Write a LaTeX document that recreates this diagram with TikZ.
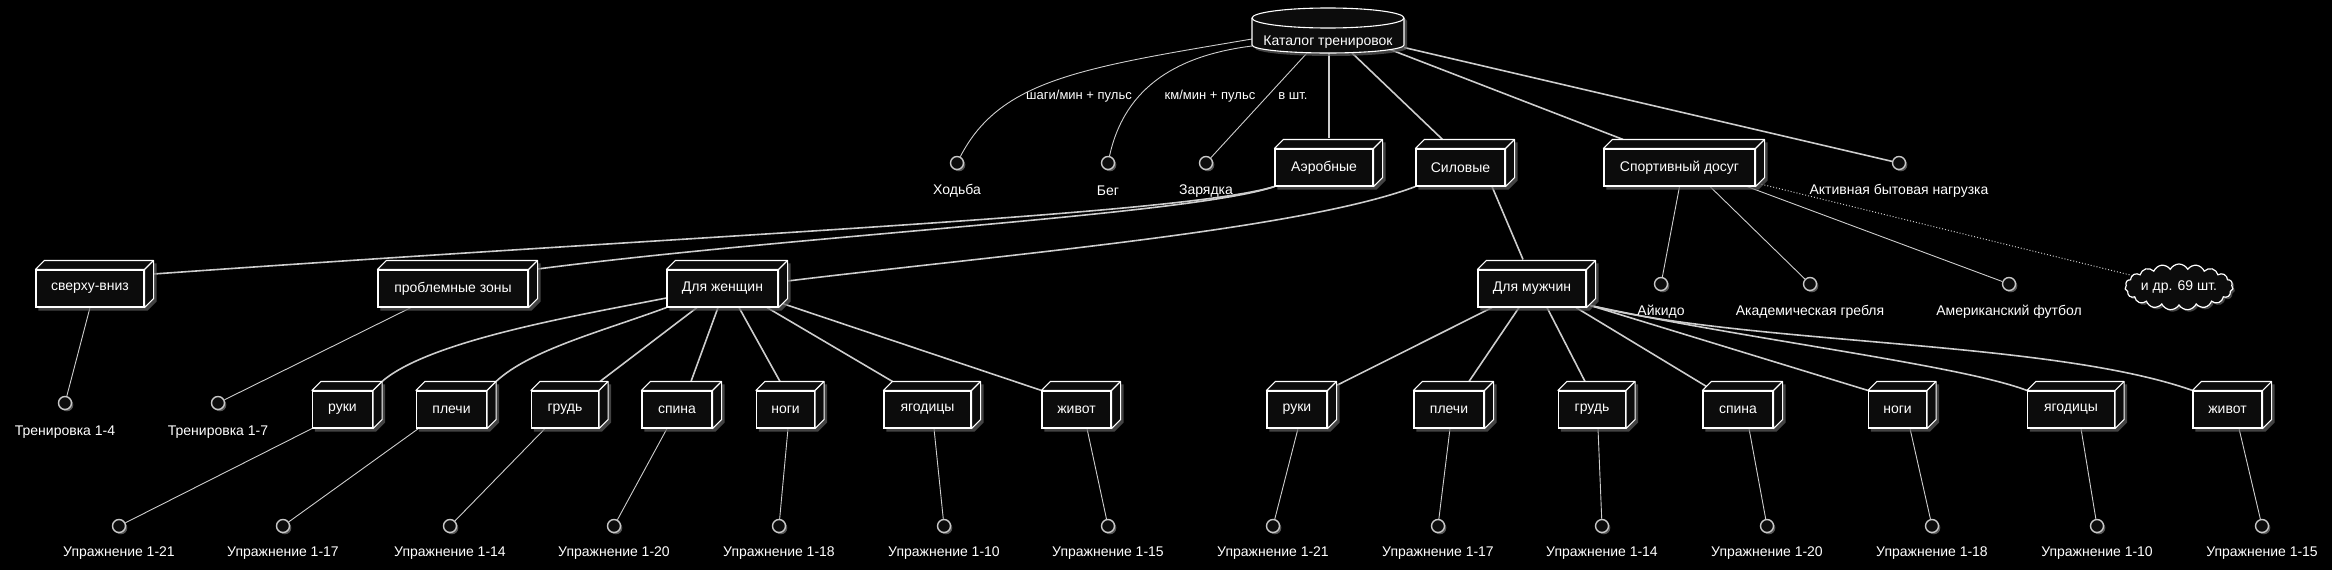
\documentclass[tikz,border=0pt]{standalone}
\usepackage{fontspec}
\setmainfont{Liberation Sans}
\usetikzlibrary{shapes.symbols,shadows}
\pgfdeclarelayer{bg}
\pgfdeclarelayer{shd}
\pgfsetlayers{bg,shd,main}
\definecolor{boxfill}{RGB}{12,12,12}
\definecolor{linec}{RGB}{205,205,205}
\definecolor{circc}{RGB}{200,200,200}
\definecolor{shadc}{RGB}{95,95,95}
\tikzset{
  base/.style={font=\fontsize{14pt}{16pt}\selectfont, text=white},
  boxnode/.style={base, draw=white, fill=boxfill, line width=1.1pt, minimum height=37pt, inner sep=0pt},
  boxedge/.style={draw=white, fill=boxfill, line width=1.1pt, line join=round},
  wline/.style={draw=white, line width=1.1pt},
  iface/.style={circle, draw=circc, fill=boxfill, line width=1.4pt, minimum size=13pt, inner sep=0pt,
    drop shadow={shadow xshift=1.8pt, shadow yshift=-1.8pt, fill=shadc, opacity=0.9}},
  lbl/.style={base, inner sep=0pt},
  elbl/.style={font=\fontsize{13pt}{15pt}\selectfont, text=white, inner sep=0pt},
  thk/.style={draw=linec, line width=1.6pt},
  thn/.style={draw=linec, line width=0.9pt},
  dots/.style={draw=linec, line width=1pt, dotted},
  cloudst/.style={base, cloud, cloud puffs=19, cloud puff arc=125, cloud ignores aspect,
    minimum width=108pt, minimum height=46pt, draw=white, fill=boxfill, line width=1.2pt, inner sep=0pt,
    drop shadow={shadow xshift=2pt, shadow yshift=-2pt, fill=shadc, opacity=0.7}},
}
\newcommand{\deepbox}[1]{%
  \begin{pgfonlayer}{shd}
  \fill[shadc, opacity=.7] ([shift={(3pt,-3pt)}]#1.south west) -- ([shift={(3pt,-3pt)}]#1.north west)
    -- ([shift={(12pt,6pt)}]#1.north west) -- ([shift={(12pt,6pt)}]#1.north east)
    -- ([shift={(12pt,6pt)}]#1.south east) -- ([shift={(3pt,-3pt)}]#1.south east) -- cycle;
  \end{pgfonlayer}
  \draw[boxedge] (#1.north west) -- ([shift={(9pt,9pt)}]#1.north west) -- ([shift={(9pt,9pt)}]#1.north east)
    -- ([shift={(9pt,9pt)}]#1.south east) -- (#1.south east) -- (#1.north east) -- cycle;
  \draw[wline] (#1.north east) -- ([shift={(9pt,9pt)}]#1.north east);
}
\begin{document}
\begin{tikzpicture}[x=1pt,y=-1pt]
\useasboundingbox (0,0) rectangle (2332,570);

% ---------- catalog (database) ----------
\node[minimum width=152pt, minimum height=45pt, inner sep=0pt] (cat) at (1328,30.5) {};
\begin{pgfonlayer}{shd}
\fill[shadc, opacity=.7] (1255,21) -- (1255,48) arc[start angle=180,end angle=360,x radius=76pt,y radius=8pt]
  -- (1407,21) arc[start angle=0,end angle=180,x radius=76pt,y radius=10pt] -- cycle;
\end{pgfonlayer}
\draw[boxedge] (1252,18) -- (1252,45) arc[start angle=180,end angle=360,x radius=76pt,y radius=8pt]
  -- (1404,18) arc[start angle=0,end angle=180,x radius=76pt,y radius=10pt] -- cycle;
\draw[wline] (1252,18) arc[start angle=180,end angle=360,x radius=76pt,y radius=10pt];
\node[lbl] (catl) at (1328,42) {Каталог тренировок};

% ---------- top row ----------
\node[iface] (hod) at (957,163) {};
\node[lbl] (hodl) at (957,191) {Ходьба};
\node[iface] (beg) at (1108,163) {};
\node[lbl] (begl) at (1108,191) {Бег};
\node[iface] (zar) at (1206,163) {};
\node[lbl] (zarl) at (1206,191) {Зарядка};
\node[iface] (akt) at (1899,163) {};
\node[lbl] (aktl) at (1899,191) {Активная бытовая нагрузка};

\node[boxnode, minimum width=98pt] (aer) at (1324,167.5) {Аэробные};
\node[boxnode, minimum width=89pt] (sil) at (1460.5,167.5) {Силовые};
\node[boxnode, minimum width=151pt] (sport) at (1679.5,167.5) {Спортивный досуг};

\node[elbl] (e1) at (1079,96) {шаги/мин + пульс};
\node[elbl] (e2) at (1210,96) {км/мин + пульс};
\node[elbl] (e3) at (1293,96) {в шт.};

% ---------- second row ----------
\node[boxnode, minimum width=108pt] (verh) at (90,288.5) {сверху-вниз};
\node[boxnode, minimum width=150pt] (prob) at (453,288.5) {проблемные зоны};
\node[boxnode, minimum width=111pt] (wom) at (722.5,288.5) {Для женщин};
\node[boxnode, minimum width=108pt] (men) at (1532,288.5) {Для мужчин};

\node[iface] (aik) at (1661,284) {};
\node[lbl] (aikl) at (1661,312) {Айкидо};
\node[iface] (akad) at (1810,284) {};
\node[lbl] (akadl) at (1810,312) {Академическая гребля};
\node[iface] (amer) at (2009,284) {};
\node[lbl] (amerl) at (2009,312) {Американский футбол};

\node[cloudst] (cloud) at (2179,287) {и др. 69 шт.};

\node[iface] (t14) at (65,403) {};
\node[lbl] (t14l) at (65,432) {Тренировка 1-4};
\node[iface] (t17) at (218,403) {};
\node[lbl] (t17l) at (218,432) {Тренировка 1-7};

% ---------- third row: women ----------
\node[boxnode, minimum width=60pt] (wruk) at (342.5,409.5) {руки};
\node[boxnode, minimum width=70pt] (wple) at (451.5,409.5) {плечи};
\node[boxnode, minimum width=67pt] (wgru) at (565,409.5) {грудь};
\node[boxnode, minimum width=70pt] (wspi) at (677,409.5) {спина};
\node[boxnode, minimum width=58pt] (wnog) at (785.5,409.5) {ноги};
\node[boxnode, minimum width=87pt] (wyag) at (927.5,409.5) {ягодицы};
\node[boxnode, minimum width=69pt] (wziv) at (1076.5,409.5) {живот};
% men
\node[boxnode, minimum width=60pt] (mruk) at (1297,409.5) {руки};
\node[boxnode, minimum width=70pt] (mple) at (1449,409.5) {плечи};
\node[boxnode, minimum width=67pt] (mgru) at (1592,409.5) {грудь};
\node[boxnode, minimum width=70pt] (mspi) at (1738,409.5) {спина};
\node[boxnode, minimum width=58pt] (mnog) at (1897.5,409.5) {ноги};
\node[boxnode, minimum width=87pt] (myag) at (2071,409.5) {ягодицы};
\node[boxnode, minimum width=69pt] (mziv) at (2227.5,409.5) {живот};

% ---------- bottom circles ----------
\node[iface] (wu1) at (119,526) {};  \node[lbl] (wu1l) at (119,553) {Упражнение 1-21};
\node[iface] (wu2) at (283,526) {};  \node[lbl] (wu2l) at (283,553) {Упражнение 1-17};
\node[iface] (wu3) at (450,526) {};  \node[lbl] (wu3l) at (450,553) {Упражнение 1-14};
\node[iface] (wu4) at (614,526) {};  \node[lbl] (wu4l) at (614,553) {Упражнение 1-20};
\node[iface] (wu5) at (779,526) {};  \node[lbl] (wu5l) at (779,553) {Упражнение 1-18};
\node[iface] (wu6) at (944,526) {};  \node[lbl] (wu6l) at (944,553) {Упражнение 1-10};
\node[iface] (wu7) at (1108,526) {}; \node[lbl] (wu7l) at (1108,553) {Упражнение 1-15};
\node[iface] (mu1) at (1273,526) {}; \node[lbl] (mu1l) at (1273,553) {Упражнение 1-21};
\node[iface] (mu2) at (1438,526) {}; \node[lbl] (mu2l) at (1438,553) {Упражнение 1-17};
\node[iface] (mu3) at (1602,526) {}; \node[lbl] (mu3l) at (1602,553) {Упражнение 1-14};
\node[iface] (mu4) at (1767,526) {}; \node[lbl] (mu4l) at (1767,553) {Упражнение 1-20};
\node[iface] (mu5) at (1932,526) {}; \node[lbl] (mu5l) at (1932,553) {Упражнение 1-18};
\node[iface] (mu6) at (2097,526) {}; \node[lbl] (mu6l) at (2097,553) {Упражнение 1-10};
\node[iface] (mu7) at (2262,526) {}; \node[lbl] (mu7l) at (2262,553) {Упражнение 1-15};

% ---------- 3D faces ----------
\foreach \b in {aer,sil,sport,verh,prob,wom,men,wruk,wple,wgru,wspi,wnog,wyag,wziv,mruk,mple,mgru,mspi,mnog,myag,mziv}{\deepbox{\b}}

% ---------- connectors ----------
\begin{pgfonlayer}{bg}
\fill[black] (0,0) rectangle (2332,570);
% catalog
\draw[thn] ([shift={(-76pt,-8.5pt)}]cat.center) .. controls (1080,68) and (1000,80) .. (hod);
\draw[thn] ([shift={(-76pt,-15.5pt)}]cat.center) .. controls (1180,55) and (1125,85) .. (beg);
\draw[thn] ([shift={(-21pt,-22.5pt)}]cat.center) -- (zar);
\draw[thk] ([shift={(1pt,-22.5pt)}]cat.center) -- ([shift={(5pt,10pt)}]aer.north);
\draw[thk] ([shift={(24pt,-22.5pt)}]cat.center) -- ([shift={(-18pt,9pt)}]sil.north);
\draw[thk] ([shift={(62pt,-19pt)}]cat.center) -- ([shift={(-56.5pt,9pt)}]sport.north);
\draw[thk] ([shift={(76pt,-17pt)}]cat.center) -- (akt);
% aerobic
\draw[thk] (aer.south west) .. controls (1180,215) and (700,235) .. ([shift={(9pt,14.5pt)}]verh.east);
\draw[thk] (aer.south west) .. controls (1190,215) and (800,235) .. ([shift={(9pt,19.5pt)}]prob.east);
\draw[thn] (verh.south) -- (t14);
\draw[thn] ([xshift=-42pt]prob.south) -- (t17);
% strength
\draw[thk] ([shift={(9pt,7.5pt)}]wom.east) .. controls (1000,255) and (1300,230) .. (sil.south west);
\draw[thk] ([xshift=31.5pt]sil.south) -- ([shift={(-9pt,10pt)}]men.north);
% sport
\draw[thn] (sport.south) -- (aik);
\draw[thn] ([xshift=30.5pt]sport.south) -- (akad);
\draw[thn] ([xshift=67.5pt]sport.south) -- (amer);
\draw[dots] ([shift={(3pt,3pt)}]sport.south east) -- (cloud);
% women
\draw[thk] ([yshift=-9.5pt]wom.west) .. controls (580,315) and (430,340) .. ([shift={(9pt,9pt)}]wruk.north east);
\draw[thk] (wom.south west) .. controls (600,332) and (530,350) .. ([shift={(9pt,9pt)}]wple.north east);
\draw[thk] ([xshift=-25.5pt]wom.south) -- ([shift={(35pt,9pt)}]wgru.north);
\draw[thk] ([xshift=-4.5pt]wom.south) -- ([shift={(14pt,9pt)}]wspi.north);
\draw[thk] ([xshift=16.5pt]wom.south) -- ([shift={(-5.5pt,9pt)}]wnog.north);
\draw[thk] ([xshift=44.5pt]wom.south) -- ([shift={(9pt,9pt)}]wyag.north west);
\draw[thk] ([shift={(4pt,4pt)}]wom.south east) -- (wziv.north west);
% men
\draw[thk] ([xshift=-40pt]men.south) -- ([shift={(9pt,5pt)}]mruk.north east);
\draw[thk] ([xshift=-13pt]men.south) -- ([shift={(20pt,9pt)}]mple.north);
\draw[thk] ([xshift=15pt]men.south) -- ([shift={(-7pt,9pt)}]mgru.north);
\draw[thk] ([xshift=44pt]men.south) -- ([shift={(4pt,4pt)}]mspi.north west);
\draw[thk] ([shift={(4pt,2pt)}]men.south east) -- (mnog.north west);
\draw[thk] ([shift={(4pt,2pt)}]men.south east) .. controls (1750,340) and (1960,365) .. (myag.north west);
\draw[thk] ([shift={(4pt,2pt)}]men.south east) .. controls (1750,345) and (2050,340) .. (mziv.north west);
% exercises
\draw[thn] (wruk.south west) -- (wu1);
\draw[thn] ([xshift=2.5pt]wple.south west) -- (wu2);
\draw[thn] ([xshift=-20pt]wgru.south) -- (wu3);
\draw[thn] ([xshift=-10pt]wspi.south) -- (wu4);
\draw[thn] ([xshift=2.5pt]wnog.south) -- (wu5);
\draw[thn] ([xshift=6.5pt]wyag.south) -- (wu6);
\draw[thn] ([xshift=10.5pt]wziv.south) -- (wu7);
\draw[thn] ([xshift=1pt]mruk.south) -- (mu1);
\draw[thn] ([xshift=1pt]mple.south) -- (mu2);
\draw[thn] ([xshift=6pt]mgru.south) -- (mu3);
\draw[thn] ([xshift=11pt]mspi.south) -- (mu4);
\draw[thn] ([xshift=12.5pt]mnog.south) -- (mu5);
\draw[thn] ([xshift=10pt]myag.south) -- (mu6);
\draw[thn] ([xshift=11.5pt]mziv.south) -- (mu7);
\end{pgfonlayer}
\end{tikzpicture}
\end{document}
